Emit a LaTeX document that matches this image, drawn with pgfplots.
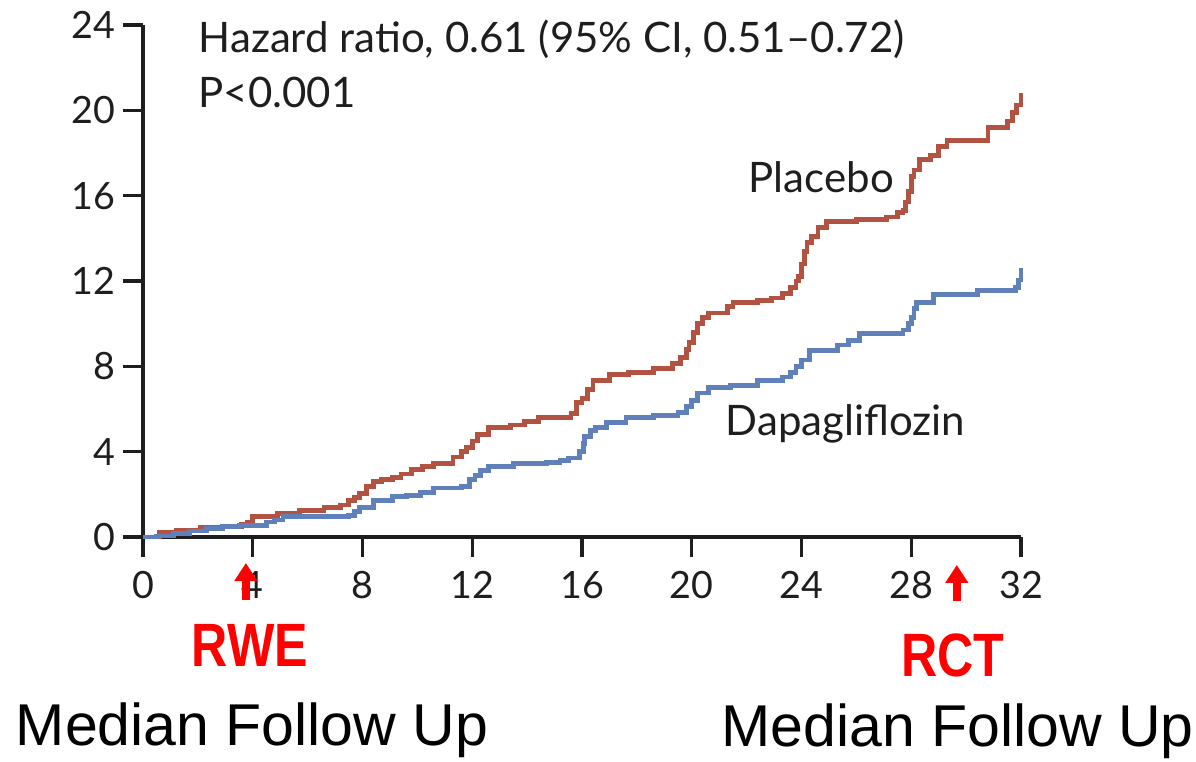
\documentclass[border=0pt]{standalone}
\usepackage{pgfplots}
\pgfplotsset{compat=1.18}
\usepackage{fontspec}
\setmainfont{Lato}
\newfontfamily\arialfont{Liberation Sans}
\usetikzlibrary{arrows.meta}

\definecolor{placeboRed}{RGB}{178,82,64}
\definecolor{dapaBlue}{RGB}{96,128,188}
\definecolor{axisGray}{RGB}{30,30,30}

% cumulative incidence (%), months since randomization
\pgfplotstableread{
x y
0 0
0.6 0.23
1.2 0.3
2.1 0.47
3.1 0.5
3.6 0.6
3.8 0.7
4.0 0.95
4.9 1.1
5.7 1.25
6.6 1.4
7.2 1.5
7.5 1.7
7.7 1.85
7.9 2.05
8.15 2.35
8.4 2.6
8.7 2.7
9.1 2.8
9.4 2.95
9.8 3.15
10.2 3.3
10.6 3.45
11.3 3.75
11.6 4.0
11.8 4.2
12.0 4.5
12.2 4.8
12.6 5.15
13.4 5.25
13.9 5.4
14.4 5.6
15.6 5.8
15.8 6.3
16.0 6.5
16.2 6.9
16.4 7.35
17.0 7.6
17.7 7.7
18.6 7.9
19.3 8.15
19.6 8.4
19.8 8.8
19.9 9.1
20.05 9.6
20.2 10.0
20.4 10.3
20.6 10.5
21.3 10.8
21.5 11.0
22.4 11.1
22.9 11.2
23.3 11.4
23.6 11.7
23.8 12.0
23.9 12.2
24.0 12.8
24.1 13.4
24.2 13.8
24.35 14.1
24.6 14.5
24.9 14.8
26.0 14.9
27.1 15.0
27.5 15.2
27.7 15.3
27.8 15.7
27.9 16.2
28.0 16.9
28.1 17.2
28.3 17.7
28.7 17.9
29.0 18.3
29.3 18.6
30.8 19.2
31.5 19.5
31.7 19.9
31.85 20.25
32.0 20.8
}\placebo

\pgfplotstableread{
x y
0 0
0.5 0.05
1.1 0.17
1.7 0.28
2.3 0.4
2.9 0.48
3.5 0.55
4.5 0.7
4.8 0.8
5.1 0.95
7.5 1.0
7.7 1.2
7.9 1.4
8.4 1.73
9.1 1.9
9.6 1.95
10.1 2.1
10.6 2.3
11.6 2.35
11.9 2.7
12.1 2.9
12.3 3.1
12.6 3.3
13.5 3.45
14.7 3.5
15.2 3.6
15.5 3.7
15.9 4.0
16.05 4.4
16.1 4.7
16.3 5.0
16.5 5.15
16.9 5.35
17.6 5.6
18.6 5.7
19.5 5.85
19.8 6.1
20.0 6.4
20.2 6.75
20.6 7.0
21.4 7.1
22.4 7.35
23.3 7.5
23.6 7.7
23.8 8.0
24.0 8.3
24.3 8.75
25.3 9.0
25.7 9.2
26.1 9.55
27.7 9.7
27.9 10.0
28.0 10.3
28.1 10.7
28.2 11.0
28.8 11.35
30.4 11.55
31.8 11.7
31.9 12.05
32.0 12.6
}\dapa

\begin{document}
\begin{tikzpicture}
\useasboundingbox (-35.75pt,-56pt) rectangle (263.25pt,134.25pt);
\begin{axis}[
  scale only axis,
  width=219.5pt, height=128pt,
  xmin=0, xmax=32, ymin=0, ymax=24,
  axis lines*=left,
  axis line style={line width=0.8pt, color=axisGray},
  xtick={0,4,...,32}, ytick={0,4,...,24},
  tick align=outside,
  major tick length=5pt,
  tick style={line width=0.8pt, color=axisGray},
  /pgf/number format/assume math mode=true,
  ticklabel style={font=\fontsize{9.4pt}{11pt}\selectfont, text=axisGray},
  yticklabel style={xshift=1.5pt},
  clip=false,
]
\addplot[const plot, color=placeboRed, line width=1.2pt] table[x=x,y=y] {\placebo};
\addplot[const plot, color=dapaBlue, line width=1.2pt] table[x=x,y=y] {\dapa};

\node[anchor=base west, inner sep=0pt, font=\fontsize{10.5pt}{12pt}\selectfont, text=axisGray]
  at (axis cs:2.0,22.69) {Hazard ratio, 0.61 (95\% CI, 0.51–0.72)};
\node[anchor=base west, inner sep=0pt, font=\fontsize{10.5pt}{12pt}\selectfont, text=axisGray]
  at (axis cs:2.0,20.11) {P<0.001};
\node[anchor=base west, inner sep=0pt, font=\fontsize{10.5pt}{12pt}\selectfont, text=axisGray]
  at (axis cs:22.05,16.17) {Placebo};
\node[anchor=base west, inner sep=0pt, font=\fontsize{10.5pt}{12pt}\selectfont, text=axisGray]
  at (axis cs:21.21,4.78) {Dapagliflozin};

% median follow-up markers
\draw[red, line width=2pt, -{Triangle[width=5.5pt,length=4.5pt]}]
  (axis cs:3.75,-2.95) -- (axis cs:3.75,-1.22);
\draw[red, line width=2pt, -{Triangle[width=5.5pt,length=4.5pt]}]
  (axis cs:29.66,-3.0) -- (axis cs:29.66,-1.31);

\node[anchor=base, inner sep=0pt, text=red, font=\arialfont\bfseries\fontsize{15.3pt}{18pt}\selectfont, xscale=0.82]
  at (axis cs:3.9,-6.09) {RWE};
\node[anchor=base, inner sep=0pt, text=red, font=\arialfont\bfseries\fontsize{15.3pt}{18pt}\selectfont, xscale=0.82]
  at (axis cs:29.52,-6.56) {RCT};
\node[anchor=base west, inner sep=0pt, font=\arialfont\fontsize{14.75pt}{17pt}\selectfont]
  at (axis cs:-4.66,-9.75) {Median Follow Up};
\node[anchor=base west, inner sep=0pt, font=\arialfont\fontsize{14.75pt}{17pt}\selectfont]
  at (axis cs:21.06,-9.84) {Median Follow Up};
\end{axis}
\end{tikzpicture}
\end{document}
